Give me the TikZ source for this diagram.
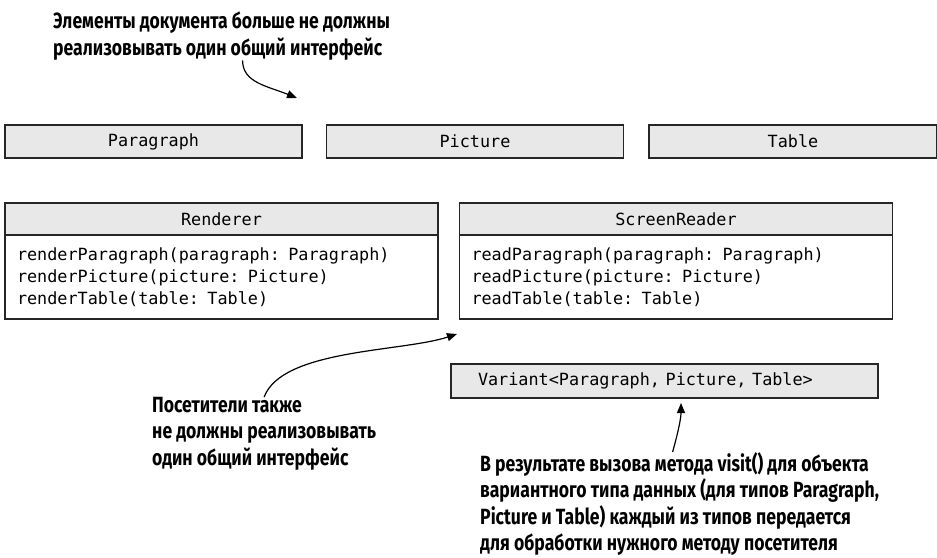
\documentclass[tikz,border=0pt]{standalone}
\usepackage{fontspec}
\setmainfont{Fira Sans}
\newfontfamily\notefont{Fira Sans}[FakeStretch=0.8]
\newfontfamily\codefont{DejaVu Sans Mono}
\newcommand\codetext{\codefont\fontsize{16.8}{22}\selectfont}
\newcommand\notetext{\notefont\bfseries\fontsize{22}{26.5}\selectfont}
\usepackage{tikz}
\usetikzlibrary{arrows.meta,positioning}
\definecolor{uvgray}{HTML}{E8E8E8}
\definecolor{uvline}{HTML}{262626}

\begin{document}
\begin{tikzpicture}[x=1pt, y=-1pt,
          node distance=0pt and 23pt,
          elem/.style={draw=uvline, line width=1.5pt, fill=uvgray,
                       minimum width=297pt, minimum height=33pt,
                       inner sep=0pt, font=\codetext},
          head/.style={elem, minimum width=433pt, minimum height=32pt},
          body/.style={draw=uvline, line width=1.5pt, fill=white,
                       text width=409pt, align=left, inner xsep=12pt,
                       minimum height=84pt, font=\codetext},
          note/.style={font=\notetext, align=left, inner sep=0pt, anchor=north west},
          arr/.style={-{Triangle[length=10pt,width=8pt]}, line width=1.2pt, black}
        ]
        \useasboundingbox (0,0) rectangle (937,557);
        % element types
        \node[note] (elemnote) at (53,12) {Элементы документа больше не должны\\реализовывать один общий интерфейс};
        \node[elem] (para) at (153.5,141.5) {Paragraph};
        \node[elem, right=of para] (pict) {Picture};
        \node[elem, right=24pt of pict, minimum width=288pt] (tabl) {Table};
        % visitors
        \node[head] (rend) at (221.5,219) {Renderer};
        \node[body, below=-1.5pt of rend] (rendbody) {renderParagraph(paragraph: Paragraph)\\renderPicture(picture: Picture)\\renderTable(table: Table)};
        \node[head, right=20pt of rend] (scr) {ScreenReader};
        \node[body, below=-1.5pt of scr] (scrbody) {readParagraph(paragraph: Paragraph)\\readPicture(picture: Picture)\\readTable(table: Table)};
        \node[elem, minimum width=427pt, minimum height=34pt, text width=373pt,
              align=left, inner xsep=27pt] (var) at (664.5,381) {Variant<Paragraph, Picture, Table>};
        % notes below
        \node[note] (visnote) at (152,397) {Посетители также\\не должны реализовывать\\один общий интерфейс};
        \node[note] (varnote) at (480,452) {В результате вызова метода visit() для объекта\\вариантного типа данных (для типов Paragraph,\\Picture и Table) каждый из типов передается\\для обработки нужного методу посетителя};
        \coordinate (elemtip) at (297,98);
        \coordinate (scrtip) at (457,334);
        \coordinate (vartip) at (681,403);
        \draw[arr] ([xshift=21pt]elemnote.south) .. controls +(0,22) and +(-30,-12) .. (elemtip);
        \draw[arr] (visnote.north) .. controls +(18,-48) and +(-55,18) .. (scrtip);
        \draw[arr] ([xshift=-7pt]varnote.north) .. controls +(5,-18) and +(0,16) .. (vartip);
      \end{tikzpicture}
\end{document}
